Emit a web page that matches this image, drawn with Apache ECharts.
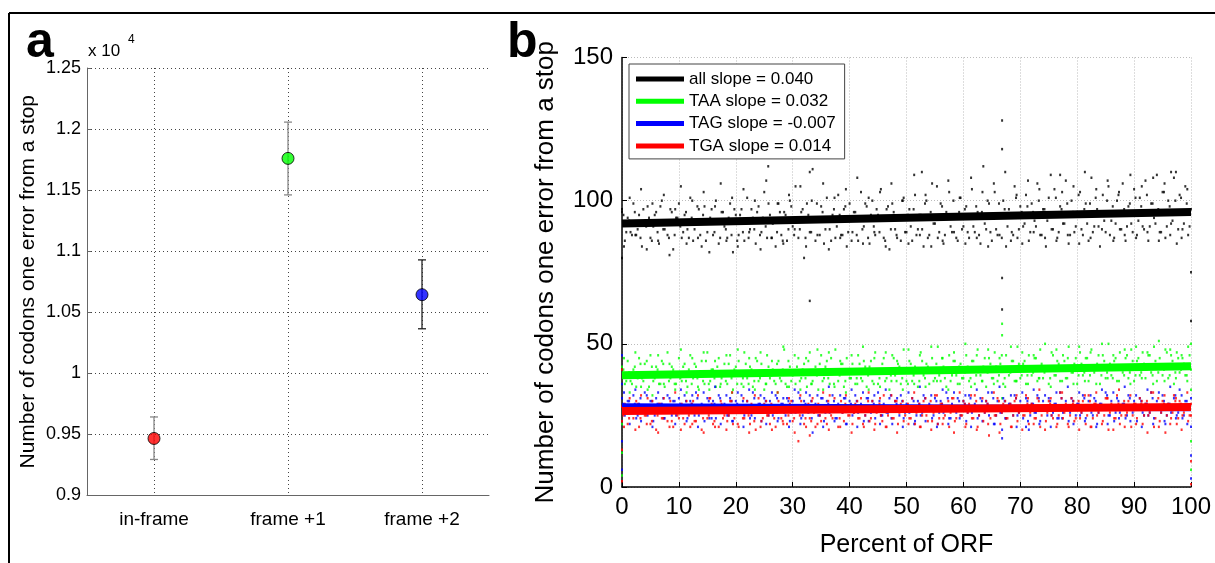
<!DOCTYPE html>
<html><head><meta charset="utf-8">
<script src="https://cdn.jsdelivr.net/npm/echarts@6/dist/echarts.min.js"></script>
<style>html,body{margin:0;padding:0;background:#fff}#c{width:1215px;height:563px}</style>
</head><body><div id="c"></div>
<script>
const FONT = '"Liberation Sans", Arial, Helvetica, sans-serif';

// ---------- Panel a ----------
const frameCats = ['in-frame', 'frame +1', 'frame +2'];
const frameMeans = [9467, 11760, 10644];
const frameLow = [9295, 11461, 10365];
const frameHigh = [9643, 12057, 10929];
const frameColors = ['#ff0000', '#00ff00', '#0000ff'];
const errColors = ['#888888', '#888888', '#222222'];

// ---------- Panel b ----------
const fitNames = ['all slope = 0.040', 'TAA slope = 0.032', 'TAG slope = -0.007', 'TGA slope = 0.014'];
const fitColors = ['#000000', '#00ff00', '#0000ff', '#ff0000'];
const fitStart = [92.0, 39.0, 28.2, 26.5];
const fitEnd = [96.0, 42.2, 27.5, 27.9];
const orfStep = 0.5;    // spacing of sample sets 1 and 2 (percent of ORF)
const orfOffset = 0.25; // set 2 sits between set 1
const orfStep3 = 1;     // spacing of sample set 3
const orfOffset3 = 0.35;

const allPts = [97,86,94,89,99,88,95,84,93,98,87,91,96,85,100,90,88,97,83,94,99,
87,95,90,101,86,93,97,84,98,89,94,88,100,85,96,91,87,99,82,95,
88,97,86,101,90,94,85,98,89,103,87,95,92,84,99,88,96,86,100,91,
105,87,96,80,99,89,111,86,94,98,85,101,90,95,87,102,88,97,84,99,
89,96,86,103,91,98,85,100,88,95,104,87,97,83,99,90,94,86,101,89,
97,86,102,90,95,84,100,88,106,92,87,99,85,96,103,89,94,86,101,91,
98,87,104,89,96,85,112,90,99,86,103,88,95,100,84,97,89,105,87,98,
91,102,86,99,93,106,88,97,84,101,90,104,87,98,92,107,85,100,89,96,
103,88,99,86,108,91,97,84,102,89,105,93,87,100,90,106,86,98,92,104,
88,101,91,107,86,99,94,109,89,103,87,100,92,108,85,102,90,105,88,97];
const allPts2 = [95,89,93,88,96,90,87,97,91,94,86,95,89,98,90,93,87,96,88,94,91,
89,96,87,94,90,98,88,95,86,93,97,89,92,87,96,90,94,88,97,86,
95,89,93,87,97,90,96,88,94,91,99,87,93,89,96,86,95,90,98,88,
94,90,97,87,95,89,93,99,88,96,90,94,86,97,91,95,88,98,89,93,
96,88,94,90,99,87,95,91,97,89,93,86,98,90,96,88,94,100,89,95,
91,97,88,95,90,99,87,96,92,94,89,98,88,95,91,100,87,96,90,97,
89,95,91,98,88,96,92,100,89,94,90,99,87,97,91,95,88,101,90,96,
92,98,89,96,91,100,88,97,93,95,90,101,89,97,92,99,88,96,91,102,
90,97,92,99,89,101,91,96,93,100,88,98,92,102,90,97,91,99,89,101,
93,98,90,102,91,99,92,97,89,103,91,98,93,100,90,101,92,99,91,98];
const allPts3 = [84,101,88,104,83,99,86,102,81,97,105,85,100,87,103,82,98,106,86,101,
84,104,89,100,83,107,87,99,85,102,90,105,84,100,88,106,83,101,87,104,
86,108,85,101,89,103,84,106,87,100,85,109,88,102,84,105,86,107,89,101,
85,108,87,103,84,106,88,110,86,102,85,107,89,104,87,109,86,103,88,105,
85,110,87,104,90,107,86,103,88,109,87,105,89,108,86,106,88,110,87,104,89];
const taaPts = [42,36,44,37,41,35,45,38,43,34,46,37,42,36,44,35,47,38,41,36,45,
37,43,35,46,38,42,34,44,36,47,37,41,35,45,38,43,36,46,34,42,
44,36,47,38,42,35,45,37,43,34,46,38,41,36,44,37,48,35,42,39,
36,45,38,43,35,47,37,42,34,46,38,44,36,41,48,37,43,35,45,38,
43,36,46,38,44,35,42,37,47,36,41,45,38,34,46,39,43,36,48,37,
44,37,42,35,47,39,43,36,45,38,49,37,42,35,46,39,44,36,43,38,
46,37,44,36,48,39,42,35,45,38,47,37,43,36,46,39,44,37,49,38,
43,36,46,39,45,37,48,38,42,36,47,39,44,37,46,38,49,40,43,36,
47,39,45,37,48,40,43,36,46,38,50,39,44,37,47,40,45,38,48,37,
44,39,47,38,46,40,49,37,45,39,48,38,46,36,47,40,45,39,49,41];
const taaPts2 = [41,37,40,36,42,38,43,37,40,35,42,38,41,36,43,39,37,42,36,40,38,
42,37,41,36,43,38,40,37,44,36,41,38,42,35,40,37,43,38,41,36,
40,38,43,36,41,37,44,38,40,36,42,39,37,43,38,41,36,44,37,40,
42,37,41,38,44,36,40,39,43,37,42,38,45,36,41,39,43,37,40,38,
41,38,43,37,42,39,44,36,41,38,43,37,40,39,45,37,42,38,41,36,
43,39,41,37,44,38,42,40,37,43,39,45,38,41,37,44,39,42,38,40,
42,38,44,39,41,37,45,40,43,38,42,39,46,38,41,40,44,37,43,39,
44,39,42,40,45,38,43,40,41,38,46,39,43,41,44,38,42,40,45,39,
43,40,45,39,42,41,46,39,44,40,43,38,45,41,42,39,46,40,44,39,
45,40,43,41,46,39,44,40,42,41,47,39,44,40,45,41,43,39,46,42];
const taaPts3 = [45,33,47,35,44,32,46,36,43,34,48,33,45,35,47,34,44,36,46,33,
48,35,45,34,47,36,44,33,49,35,46,34,45,36,48,34,47,35,44,33,
46,36,49,34,45,35,47,37,44,34,48,36,46,35,49,37,45,34,47,36,
50,35,46,37,48,36,45,35,49,37,47,36,46,38,50,35,48,37,45,36,
49,37,47,36,50,38,46,37,48,36,49,38,47,36,51,37,48,38,46,37,50];
const tagPts = [31,25,30,26,32,24,29,27,33,25,30,23,31,26,29,24,32,27,30,25,31,
26,32,24,30,27,33,25,29,23,31,26,30,24,32,27,29,25,31,23,30,
27,32,25,30,24,33,26,29,23,31,27,30,25,32,24,29,26,31,23,30,
26,33,24,30,27,32,19,29,25,31,23,30,26,32,24,29,27,31,22,30,
25,32,26,29,23,31,27,30,24,33,25,29,26,31,22,30,27,32,24,29,
26,31,23,30,25,32,27,29,24,31,22,30,26,33,24,29,27,31,25,30,
23,32,26,29,24,31,27,30,25,33,22,30,26,31,24,29,27,32,25,30,
24,31,20,29,26,32,23,30,27,31,25,29,24,33,26,30,23,31,27,29,
25,32,24,30,26,31,22,29,27,33,25,30,23,31,26,29,24,32,27,30,
23,31,26,29,25,33,24,30,27,32,22,29,26,31,25,34,24,30,27,31];
const tagPts2 = [29,26,30,27,29,25,31,27,28,26,30,25,29,27,31,26,28,25,30,27,29,
27,30,26,29,25,31,27,28,26,30,24,29,27,31,26,28,25,30,27,29,
26,30,27,28,25,31,26,29,27,30,25,28,26,31,27,29,25,30,26,28,
27,31,25,29,26,30,27,28,25,31,26,29,27,30,24,28,26,31,27,29,
26,30,27,28,25,31,26,29,27,30,25,28,26,32,27,29,25,30,26,28,
27,30,25,29,26,31,27,28,25,30,26,29,27,31,24,28,26,30,27,29,
26,31,27,28,25,30,26,29,27,31,25,28,26,30,27,29,25,31,26,28,
27,30,25,29,26,31,27,28,25,30,26,29,24,31,27,28,26,30,25,29,
26,31,27,28,25,30,26,29,27,32,25,28,26,30,27,29,25,31,26,28,
27,30,25,29,26,31,27,28,26,30,25,29,27,32,26,28,25,30,27,29];
const tagPts3 = [33,22,34,23,32,21,33,24,31,22,34,23,32,21,33,24,35,22,32,23,
33,21,34,24,32,22,33,23,31,21,34,22,33,24,32,21,35,23,32,22,
34,21,33,23,32,22,34,24,31,21,33,22,35,23,32,21,34,22,33,24,
32,21,34,23,33,22,35,24,32,21,33,23,34,22,32,21,33,24,35,22,
33,23,32,21,34,22,33,24,35,23,32,21,34,22,33,23,35,24,32,22,34];
const tgaPts = [23,29,22,28,24,30,21,27,25,31,22,28,20,29,24,27,23,30,21,28,24,
29,22,27,21,30,23,28,20,26,24,31,22,28,21,29,25,23,30,22,27,
21,28,24,30,22,27,20,31,23,29,25,22,28,21,30,24,27,22,29,23,
28,16,30,22,27,24,31,21,29,23,28,22,32,24,27,21,30,23,28,25,
22,29,24,31,21,28,23,30,22,27,25,32,21,28,24,30,22,29,23,27,
24,31,22,28,21,30,25,27,23,32,22,29,24,28,21,31,23,27,25,30,
22,29,24,32,21,28,23,30,18,27,25,31,22,29,24,28,21,30,23,27,
25,32,22,29,24,31,21,28,23,30,25,27,22,33,24,29,21,31,23,28,
24,30,22,32,21,29,25,28,23,31,20,29,24,32,22,28,25,30,21,29,
24,31,22,29,25,33,21,28,23,30,19,29,24,32,22,30,25,28,23,29];
const tgaPts2 = [25,28,24,27,26,29,24,27,25,28,23,27,25,29,24,26,28,23,27,25,28,
24,27,25,29,23,26,28,24,27,25,29,23,26,28,24,27,25,30,24,26,
28,24,27,25,29,23,26,28,24,27,25,29,24,26,28,23,27,25,30,24,
27,25,28,24,29,23,26,28,25,27,24,30,25,27,28,24,26,29,25,27,
26,28,24,27,25,30,24,27,26,29,23,27,25,28,24,30,26,27,25,29,
24,28,26,29,25,27,23,30,26,28,24,29,25,27,26,31,24,28,25,29,
26,28,24,30,25,27,26,29,24,28,25,30,26,27,24,29,25,31,26,28,
25,29,26,28,24,30,25,27,26,29,24,28,25,31,26,27,25,29,24,30,
26,28,25,30,24,29,26,27,25,31,26,28,24,29,25,30,26,28,25,29,
27,29,25,30,26,28,24,31,26,29,25,28,26,30,24,29,26,28,25,30];
const tgaPts3 = [21,31,20,32,22,30,19,31,21,33,20,30,22,32,19,31,21,30,20,33,
22,31,19,32,21,30,20,33,22,31,19,32,21,30,22,33,20,31,21,32,
19,30,22,33,20,31,21,32,19,30,22,33,21,31,20,32,22,30,19,33,
21,32,20,31,22,33,19,30,21,32,20,31,22,34,20,31,21,33,22,30,
20,32,21,33,22,31,20,34,21,32,22,30,19,33,21,32,22,31,20,33,21];

const allOut = [[25.7,112],[33,65],[33,110],[52.7,110],[66.8,128],[66.8,118],[66.8,73],[66.8,62],[77,109],[96.5,110],[100,75],[100,58],[0,96],[0,80]];
const taaOut = [[66.8,57],[66.8,53],[66.8,31],[0,22],[0,12],[0,4],[100,50],[100,34],[100,16],[100,6]];
const tagOut = [[66.8,17],[66.8,20],[71,21],[0,6],[0,16],[0,46],[0,36],[100,11],[100,21],[100,3]];
const tgaOut = [[33,18],[0,2],[0,13],[0,41],[0,28],[100,9],[100,25],[100,1]];

const chart = echarts.init(document.getElementById('c'), null, {renderer: 'canvas'});

function toPairs(arr, step, off) {
  return arr.map((v, i) => [i * step + off, v]).filter(p => p[0] <= 100);
}

const ptSets = [
  ['all pts', [allPts, allPts2, allPts3], allOut, fitColors[0]],
  ['TAA pts', [taaPts, taaPts2, taaPts3], taaOut, fitColors[1]],
  ['TAG pts', [tagPts, tagPts2, tagPts3], tagOut, fitColors[2]],
  ['TGA pts', [tgaPts, tgaPts2, tgaPts3], tgaOut, fitColors[3]]
];

const series = [];
series.push({
  type: 'custom', xAxisIndex: 0, yAxisIndex: 0, silent: true,
  data: frameCats.map((c, i) => [i, frameLow[i], frameHigh[i]]),
  encode: {x: 0, y: [1, 2]},
  renderItem: function (params, api) {
    const i = api.value(0);
    const top = api.coord([i, api.value(2)]);
    const bot = api.coord([i, api.value(1)]);
    const c = errColors[params.dataIndex];
    const hw = 4;
    const st = {stroke: c, lineWidth: 1.3};
    return {type: 'group', children: [
      {type: 'line', shape: {x1: top[0], y1: top[1], x2: bot[0], y2: bot[1]}, style: st},
      {type: 'line', shape: {x1: top[0] - hw, y1: top[1], x2: top[0] + hw, y2: top[1]}, style: st},
      {type: 'line', shape: {x1: bot[0] - hw, y1: bot[1], x2: bot[0] + hw, y2: bot[1]}, style: st}
    ]};
  },
  z: 3
});
series.push({
  type: 'scatter', xAxisIndex: 0, yAxisIndex: 0, silent: true,
  symbolSize: 12,
  data: frameMeans.map((v, i) => ({value: v, itemStyle: {color: frameColors[i]}})),
  itemStyle: {borderColor: '#000', borderWidth: 1},
  z: 4
});
ptSets.forEach(([name, sets, out, col]) => {
  const data = toPairs(sets[0], orfStep, 0)
    .concat(toPairs(sets[1], orfStep, orfOffset), toPairs(sets[2], orfStep3, orfOffset3), out);
  series.push({
    name: name, type: 'scatter', xAxisIndex: 1, yAxisIndex: 1, silent: true,
    symbol: 'rect', symbolSize: [2, 2.5],
    itemStyle: {color: col},
    data: data
  });
});
fitNames.forEach((n, k) => {
  series.push({
    name: n, type: 'line', xAxisIndex: 1, yAxisIndex: 1, silent: true,
    symbol: 'none',
    lineStyle: {color: fitColors[k], width: k === 2 ? 6 : 8},
    itemStyle: {color: fitColors[k]},
    data: [[0, fitStart[k]], [100, fitEnd[k]]],
    z: 3
  });
});

const option = {
  backgroundColor: '#fff',
  animation: false,
  textStyle: {fontFamily: FONT, color: '#000'},
  grid: [
    {left: 87, right: 726, top: 68, bottom: 67.5},
    {left: 622, right: 24, top: 57.5, bottom: 75.3}
  ],
  legend: {
    data: fitNames,
    orient: 'vertical',
    left: 629, top: 64,
    icon: 'rect', itemWidth: 48, itemHeight: 5, itemGap: 2.3,
    padding: [5, 9, 3, 7],
    borderColor: '#444', borderWidth: 1,
    backgroundColor: '#fff',
    textStyle: {fontFamily: FONT, fontSize: 17, color: '#000', lineHeight: 20},
    selectedMode: false
  },
  xAxis: [
    {
      type: 'category', gridIndex: 0, data: frameCats, boundaryGap: true,
      axisLine: {lineStyle: {color: '#666'}},
      axisTick: {inside: true, alignWithLabel: true, length: 4, lineStyle: {color: '#666'}},
      axisLabel: {color: '#000', fontSize: 19, margin: 15, fontFamily: FONT},
      splitLine: {show: true, alignWithLabel: true, lineStyle: {type: [1, 3], color: '#444'}}
    },
    {
      type: 'value', gridIndex: 1, min: 0, max: 100, interval: 10,
      name: 'Percent of ORF', nameLocation: 'middle', nameGap: 46,
      nameTextStyle: {fontSize: 25, color: '#000', fontFamily: FONT},
      axisLine: {show: true, onZero: false, lineStyle: {color: '#000', width: 1.5}},
      axisTick: {show: true, inside: true, length: 5, lineStyle: {color: '#000'}},
      axisLabel: {color: '#000', fontSize: 24, margin: 8, fontFamily: FONT},
      splitLine: {show: true, lineStyle: {type: [1, 2], color: '#bbb'}}
    }
  ],
  yAxis: [
    {
      type: 'value', gridIndex: 0, min: 9000, max: 12500, interval: 500,
      name: 'Number of codons one error from a stop', nameLocation: 'middle', nameGap: 48,
      nameTextStyle: {fontSize: 21, color: '#000', fontFamily: FONT},
      axisLine: {show: true, lineStyle: {color: '#666'}},
      axisTick: {show: true, inside: true, length: 4, lineStyle: {color: '#666'}},
      axisLabel: {color: '#000', fontSize: 18, margin: 6, fontFamily: FONT,
        formatter: v => String(parseFloat((v / 10000).toFixed(2)))},
      splitLine: {show: true, lineStyle: {type: [1, 3], color: '#444'}}
    },
    {
      type: 'value', gridIndex: 1, min: 0, max: 150, interval: 50,
      name: 'Number of codons one error from a stop', nameLocation: 'middle', nameGap: 63,
      nameTextStyle: {fontSize: 26, color: '#000', fontFamily: FONT},
      axisLine: {show: true, onZero: false, lineStyle: {color: '#000', width: 1.5}},
      axisTick: {show: true, inside: true, length: 5, lineStyle: {color: '#000'}},
      axisLabel: {color: '#000', fontSize: 24, margin: 9, fontFamily: FONT},
      splitLine: {show: true, lineStyle: {type: [1, 2], color: '#bbb'}}
    }
  ],
  graphic: [
    {type: 'line', shape: {x1: 9, y1: 13, x2: 1215, y2: 13}, style: {stroke: '#000', lineWidth: 2}, silent: true},
    {type: 'line', shape: {x1: 9, y1: 13, x2: 9, y2: 563}, style: {stroke: '#000', lineWidth: 2}, silent: true},
    {type: 'text', style: {text: 'a', x: 26, y: 43, font: 'bold 50px ' + FONT, fill: '#000', textVerticalAlign: 'middle'}, silent: true},
    {type: 'text', style: {text: 'b', x: 507, y: 43, font: 'bold 50px ' + FONT, fill: '#000', textVerticalAlign: 'middle'}, silent: true},
    {type: 'text', style: {text: 'x 10', x: 88, y: 51, font: '17px ' + FONT, fill: '#000', textVerticalAlign: 'middle'}, silent: true},
    {type: 'text', style: {text: '4', x: 128, y: 40, font: '12px ' + FONT, fill: '#000', textVerticalAlign: 'middle'}, silent: true}
  ],
  series: series
};
chart.setOption(option);
</script>
</body></html>
